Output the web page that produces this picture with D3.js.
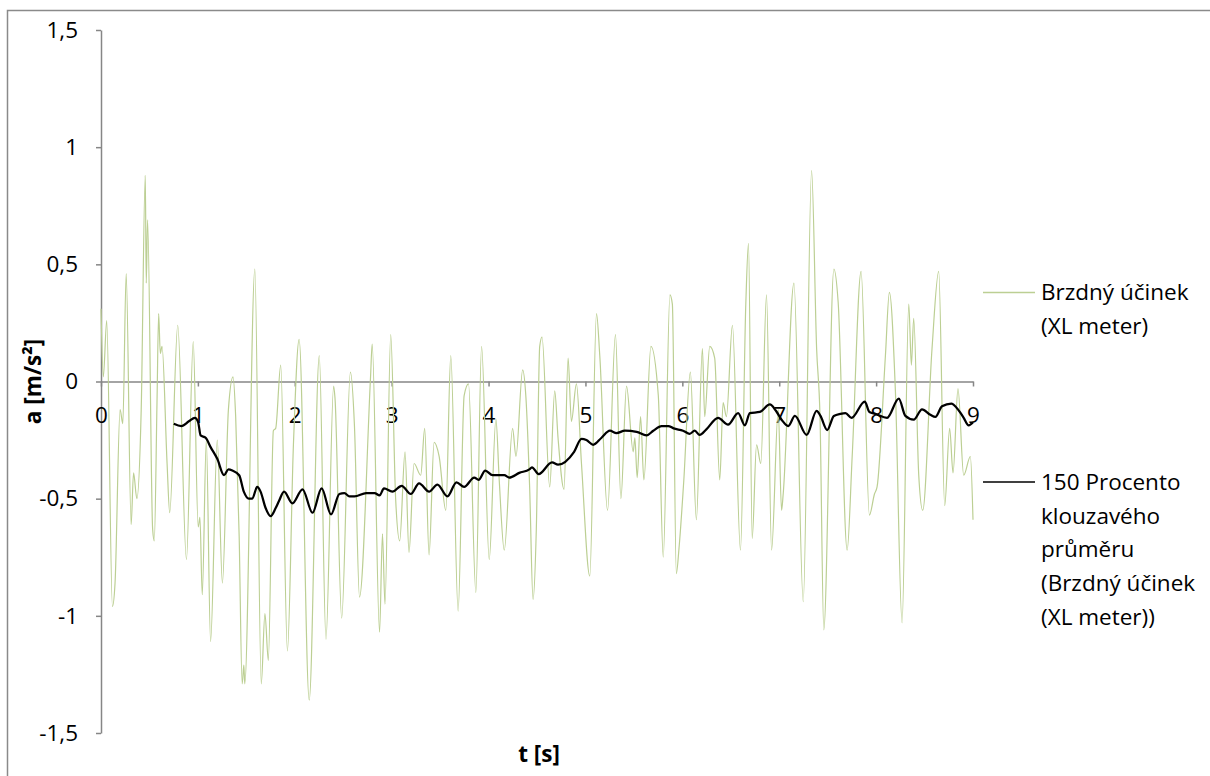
<!DOCTYPE html>
<html>
<head>
<meta charset="utf-8">
<script src="https://cdn.jsdelivr.net/npm/d3@7"></script>
<style>
  body { margin: 0; background: #fff; }
  svg { display: block; }
  text { font-family: "Open Sans", Lato, sans-serif; fill: #000; }
</style>
</head>
<body>
<svg id="chart" width="1210" height="776"></svg>
<script>
// Axis ticks
const timeTicks = [0, 1, 2, 3, 4, 5, 6, 7, 8, 9];
const accelTicks = [-1.5, -1, -0.5, 0, 0.5, 1, 1.5];

// Brzdný účinek (XL meter) - raw signal
const rawTime = [0.000, 0.024, 0.059, 0.118, 0.145, 0.197, 0.225, 0.260, 0.311, 0.336, 0.370, 0.415, 0.457, 0.467, 0.481,
  0.533, 0.550, 0.578, 0.595, 0.612, 0.630, 0.682, 0.709, 0.792, 0.882, 0.952, 1.003, 1.021, 1.045, 1.087, 1.131,
  1.200, 1.253, 1.315, 1.363, 1.390, 1.426, 1.457, 1.474, 1.484, 1.588, 1.654, 1.692, 1.727, 1.779, 1.803, 1.855,
  1.924, 1.986, 2.045, 2.149, 2.253, 2.322, 2.401, 2.415, 2.484, 2.574, 2.616, 2.668, 2.782, 2.799, 2.875, 2.905,
  2.931, 2.990, 3.041, 3.083, 3.138, 3.179, 3.231, 3.300, 3.341, 3.386, 3.438, 3.490, 3.559, 3.610, 3.686, 3.748,
  3.793, 3.869, 3.928, 4.007, 4.076, 4.110, 4.162, 4.248, 4.283, 4.352, 4.386, 4.424, 4.459, 4.493, 4.528, 4.552,
  4.631, 4.683, 4.717, 4.779, 4.821, 4.855, 4.907, 4.959, 5.045, 5.114, 5.148, 5.228, 5.310, 5.366, 5.424, 5.493,
  5.510, 5.534, 5.569, 5.603, 5.676, 5.752, 5.803, 5.872, 5.897, 5.938, 5.966, 6.014, 6.083, 6.145, 6.207, 6.231,
  6.283, 6.334, 6.386, 6.421, 6.455, 6.517, 6.600, 6.655, 6.683, 6.721, 6.766, 6.810, 6.869, 6.921, 6.990, 7.024,
  7.041, 7.152, 7.248, 7.334, 7.386, 7.421, 7.460, 7.564, 7.608, 7.701, 7.753, 7.845, 7.931, 7.983, 8.010, 8.096,
  8.137, 8.199, 8.268, 8.337, 8.364, 8.388, 8.440, 8.481, 8.577, 8.646, 8.708, 8.759, 8.794, 8.845, 8.904, 8.973,
  9.000];
const rawAccel = [0.31, 0.02, 0.26, -0.96, -0.86, -0.12, -0.18, 0.46, -0.61, -0.39, -0.50, -0.12, 0.88, 0.42, 0.69,
  -0.63, -0.68, -0.09, 0.29, 0.12, 0.15, -0.35, -0.56, 0.24, -0.76, 0.17, -0.62, -0.58, -0.91, -0.25, -1.11,
  -0.25, -0.86, -0.12, 0.02, -0.15, -0.66, -1.29, -1.21, -1.29, 0.48, -1.29, -0.99, -1.19, -0.21, -0.20, 0.07,
  -1.15, -0.27, 0.18, -1.36, 0.11, -1.10, -0.02, -0.07, -1.01, 0.04, -0.19, -0.92, 0.02, 0.16, -1.07, -0.65,
  -0.95, 0.20, -0.50, -0.68, -0.30, -0.73, -0.35, -0.40, -0.20, -0.74, -0.26, -0.32, -0.55, 0.11, -0.98, -0.06,
  -0.01, -0.90, 0.15, -0.76, -0.16, -0.42, -0.72, -0.20, -0.32, 0.05, -0.07, -0.45, -0.93, -0.63, 0.15, 0.19,
  -0.45, -0.04, -0.24, -0.46, 0.10, -0.17, -0.01, -0.35, -0.83, 0.29, 0.11, -0.55, 0.20, -0.50, -0.02, -0.30,
  -0.24, -0.41, -0.15, -0.42, 0.15, -0.06, -0.75, 0.37, 0.33, -0.82, -0.71, -0.43, 0.04, -0.59, 0.14, -0.15,
  0.15, 0.10, -0.42, -0.09, -0.15, 0.24, -0.72, 0.33, 0.59, -0.67, -0.27, -0.35, 0.37, -0.72, -0.12, -0.55,
  -0.48, 0.42, -0.94, 0.90, 0.14, -0.15, -1.06, 0.48, 0.34, -0.72, -0.32, 0.47, -0.57, -0.48, -0.45, 0.11,
  0.38, -0.04, -1.03, 0.33, 0.07, 0.27, -0.40, -0.55, 0.14, 0.47, -0.53, -0.20, -0.39, -0.03, -0.40, -0.32,
  -0.59];

// 150 Procento klouzavého průměru - moving average
const avgTime = [0.751, 0.830, 0.907, 0.969, 1.003, 1.028, 1.080, 1.131, 1.200, 1.270, 1.315, 1.356, 1.426, 1.474,
  1.526, 1.561, 1.612, 1.647, 1.699, 1.751, 1.803, 1.837, 1.889, 1.976, 2.080, 2.183, 2.277, 2.374, 2.460, 2.512,
  2.564, 2.616, 2.737, 2.824, 2.875, 2.921, 3.007, 3.103, 3.197, 3.283, 3.386, 3.472, 3.576, 3.669, 3.748, 3.852,
  3.897, 3.966, 4.041, 4.162, 4.214, 4.317, 4.421, 4.448, 4.517, 4.655, 4.717, 4.883, 4.959, 5.010, 5.079, 5.166,
  5.252, 5.321, 5.407, 5.528, 5.631, 5.700, 5.786, 5.855, 5.910, 6.007, 6.076, 6.128, 6.179, 6.248, 6.369, 6.472,
  6.576, 6.645, 6.697, 6.800, 6.903, 6.966, 7.024, 7.093, 7.162, 7.283, 7.386, 7.426, 7.495, 7.564, 7.632, 7.684,
  7.746, 7.883, 7.931, 7.993, 8.113, 8.234, 8.302, 8.388, 8.474, 8.560, 8.612, 8.680, 8.777, 8.835, 8.904, 8.955,
  9.000];
const avgAccel = [-0.180, -0.190, -0.170, -0.155, -0.174, -0.230, -0.240, -0.280, -0.330, -0.400, -0.375, -0.380,
  -0.400, -0.470, -0.500, -0.500, -0.450, -0.470, -0.540, -0.575, -0.540, -0.510, -0.470, -0.520, -0.460, -0.560,
  -0.456, -0.567, -0.480, -0.476, -0.490, -0.490, -0.476, -0.476, -0.486, -0.456, -0.470, -0.445, -0.480, -0.435,
  -0.470, -0.440, -0.490, -0.430, -0.450, -0.410, -0.420, -0.380, -0.400, -0.400, -0.410, -0.390, -0.375, -0.366,
  -0.395, -0.345, -0.355, -0.300, -0.245, -0.250, -0.270, -0.240, -0.210, -0.220, -0.210, -0.215, -0.230, -0.210,
  -0.190, -0.190, -0.200, -0.210, -0.223, -0.210, -0.228, -0.204, -0.155, -0.184, -0.135, -0.187, -0.135, -0.130,
  -0.098, -0.125, -0.163, -0.190, -0.147, -0.228, -0.125, -0.147, -0.207, -0.147, -0.138, -0.135, -0.155, -0.086,
  -0.130, -0.138, -0.155, -0.073, -0.147, -0.163, -0.119, -0.142, -0.151, -0.106, -0.094, -0.114, -0.155, -0.187,
  -0.174];

const rawName = ["Brzdný účinek", "(XL meter)"];
const avgName = ["150 Procento", "klouzavého", "průměru", "(Brzdný účinek", "(XL meter))"];

const svg = d3.select("#chart");
const axisColor = "#868686";
const fontSize = 22.5;

// outer chart frame
svg.append("rect")
  .attr("x", 7.5).attr("y", 10.5)
  .attr("width", 1300).attr("height", 900)
  .attr("fill", "none")
  .attr("stroke", "#8a8a8a")
  .attr("stroke-width", 1.5);

const x = d3.scaleLinear().domain([0, 9]).range([101, 973]);
const y = d3.scaleLinear().domain([-1.5, 1.5]).range([733, 30]);

const fmt = d => String(d).replace(".", ",");

// y axis
const yAxis = svg.append("g")
  .attr("transform", `translate(${x(0)},0)`)
  .call(d3.axisLeft(y).tickValues(accelTicks).tickFormat(fmt).tickSize(5).tickSizeOuter(0).tickPadding(18));

// x axis crossing at zero
const xAxis = svg.append("g")
  .attr("transform", `translate(0,${y(0)})`)
  .call(d3.axisBottom(x).tickValues(timeTicks).tickFormat(d3.format("d")).tickSize(5).tickSizeOuter(0));

[yAxis, xAxis].forEach(g => {
  g.select(".domain").attr("stroke", axisColor).attr("stroke-width", 1.5);
  g.selectAll(".tick line").attr("stroke", axisColor).attr("stroke-width", 1.5);
  g.selectAll(".tick text").attr("font-size", fontSize).attr("font-family", "'Open Sans', sans-serif").attr("fill", "#000");
});
xAxis.selectAll(".tick text").attr("y", 41).attr("dy", null);

// series
const rawData = rawTime.map((t, i) => [t, rawAccel[i]]);
const avgData = avgTime.map((t, i) => [t, avgAccel[i]]);

const line = d3.line().x(d => x(d[0])).y(d => y(d[1])).curve(d3.curveMonotoneX);

svg.append("path")
  .datum(rawData)
  .attr("d", line)
  .attr("fill", "none")
  .attr("stroke", "#bccf93")
  .attr("stroke-width", 1.2);

svg.append("path")
  .datum(avgData)
  .attr("d", line)
  .attr("fill", "none")
  .attr("stroke", "#000")
  .attr("stroke-width", 2.25);

// axis titles
svg.append("text")
  .attr("transform", `translate(41,${y(0)}) rotate(-90)`)
  .attr("text-anchor", "middle")
  .attr("font-size", fontSize)
  .attr("font-weight", "bold")
  .text("a [m/s²]");

svg.append("text")
  .attr("x", 539).attr("y", 762)
  .attr("text-anchor", "middle")
  .attr("font-size", fontSize)
  .attr("font-weight", "bold")
  .text("t [s]");

// legend
const legend = svg.append("g");
const lineGap = 33.7;
[[rawName, "#bccf93", 1.3, 292.5], [avgName, "#000", 1.5, 482]].forEach(([lines, color, w, ly]) => {
  legend.append("line")
    .attr("x1", 983).attr("x2", 1035)
    .attr("y1", ly).attr("y2", ly)
    .attr("stroke", color).attr("stroke-width", w);
  legend.append("text")
    .attr("x", 1041).attr("y", ly)
    .attr("font-size", fontSize)
    .selectAll("tspan")
    .data(lines)
    .join("tspan")
    .attr("x", 1041)
    .attr("dy", (d, i) => i === 0 ? "0.35em" : lineGap)
    .text(d => d);
});
</script>
</body>
</html>
